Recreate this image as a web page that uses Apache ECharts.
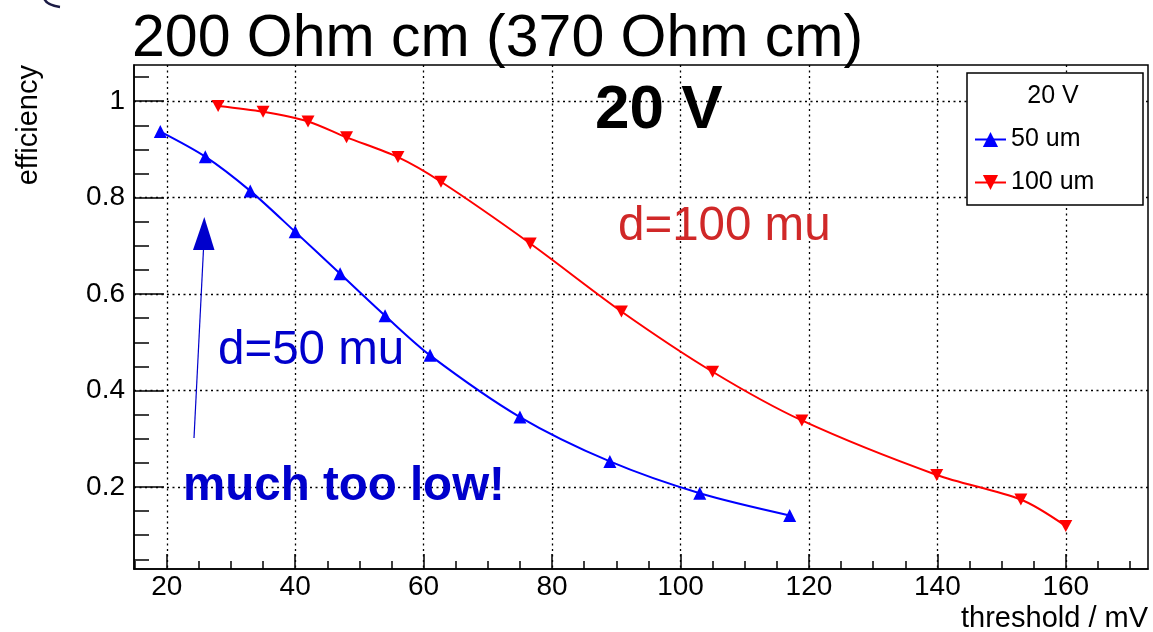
<!DOCTYPE html>
<html><head><meta charset="utf-8">
<script src="https://cdn.jsdelivr.net/npm/echarts@6/dist/echarts.min.js"></script>
<style>html,body{margin:0;padding:0;background:#fff}#c{width:1153px;height:632px}</style>
</head><body><div id="c"></div>
<script>
// ---- data ----
const xTicksMajor = [20, 40, 60, 80, 100, 120, 140, 160];
const xTicksMinor = [15, 25, 30, 35, 45, 50, 55, 65, 70, 75, 85, 90, 95, 105, 110, 115, 125, 130, 135, 145, 150, 155, 165, 170];
const yTicksMajor = [0.2, 0.4, 0.6, 0.8, 1];
const yTicksMinor = [0.05, 0.1, 0.15, 0.25, 0.3, 0.35, 0.45, 0.5, 0.55, 0.65, 0.7, 0.75, 0.85, 0.9, 0.95, 1.05];
const seriesNames = ['50 um', '100 um'];
const thr50 = [19, 26, 33, 40, 47, 54, 61, 75, 89, 103, 117];
const eff50 = [0.937, 0.885, 0.814, 0.729, 0.642, 0.555, 0.473, 0.345, 0.253, 0.187, 0.141];
const thr100 = [28, 35, 42, 48, 56, 62.7, 76.6, 90.8, 105, 118.9, 139.9, 153, 160];
const eff100 = [0.990, 0.978, 0.958, 0.925, 0.884, 0.833, 0.705, 0.564, 0.439, 0.338, 0.225, 0.174, 0.119];
const xRange = [14.9, 172.8];
const yRange = [0.03, 1.075];

const FF = '"Liberation Sans", Arial, Helvetica, sans-serif';
const chart = echarts.init(document.getElementById('c'), null, {renderer: 'canvas'});

function pairs(xs, ys) { return xs.map((x, i) => [x, ys[i]]); }

const blk = {color: '#000', width: 1.5};
const option = {
  animation: false,
  backgroundColor: '#fff',
  grid: {left: 134, top: 65, width: 1014, height: 504, show: true, borderColor: '#000', borderWidth: 1.5, backgroundColor: 'transparent'},
  xAxis: [
    {type: 'value', min: xRange[0], max: xRange[1], splitNumber: 8, minInterval: 20, maxInterval: 20, position: 'bottom',
      axisLine: {show: true, onZero: false, lineStyle: blk},
      axisTick: {show: true, inside: true, length: 15, customValues: xTicksMajor, lineStyle: blk},
      axisLabel: {show: true, customValues: xTicksMajor, margin: 4, fontSize: 28, color: '#000', fontFamily: FF},
      splitLine: {show: true, lineStyle: {color: '#000', type: [2, 3.5], width: 1.3}}},
    {type: 'value', min: xRange[0], max: xRange[1], position: 'bottom',
      axisLine: {show: false, onZero: false},
      axisTick: {show: true, inside: true, length: 8, customValues: xTicksMinor, lineStyle: blk},
      axisLabel: {show: false}, splitLine: {show: false}}
  ],
  yAxis: [
    {type: 'value', min: yRange[0], max: yRange[1], splitNumber: 5, minInterval: 0.2, maxInterval: 0.2, position: 'left',
      axisLine: {show: true, onZero: false, lineStyle: blk},
      axisTick: {show: true, inside: true, length: 30, customValues: yTicksMajor, lineStyle: blk},
      axisLabel: {show: true, customValues: yTicksMajor, margin: 9, fontSize: 28, color: '#000', fontFamily: FF},
      splitLine: {show: true, lineStyle: {color: '#000', type: [2, 3.5], width: 1.3}}},
    {type: 'value', min: yRange[0], max: yRange[1], position: 'left',
      axisLine: {show: false, onZero: false},
      axisTick: {show: true, inside: true, length: 15, customValues: yTicksMinor, lineStyle: blk},
      axisLabel: {show: false}, splitLine: {show: false}}
  ],
  legend: {
    data: seriesNames, orient: 'vertical', left: 974, top: 126, padding: 0,
    itemWidth: 31, itemHeight: 19, itemGap: 16, selectedMode: false, z: 20,
    textStyle: {fontSize: 25, lineHeight: 27, color: '#000', fontFamily: FF}
  },
  series: [
    {type: 'line', name: seriesNames[0], xAxisIndex: 0, yAxisIndex: 0, data: pairs(thr50, eff50),
      smooth: 0.3, symbol: 'triangle', symbolSize: 13, showSymbol: true,
      lineStyle: {color: '#0000ff', width: 2}, itemStyle: {color: '#0000ff'}, z: 3},
    {type: 'line', name: seriesNames[1], xAxisIndex: 0, yAxisIndex: 0, data: pairs(thr100, eff100),
      smooth: 0.3, symbol: 'path://M0,0L10,0L5,9Z', symbolSize: [13, 12], showSymbol: true,
      lineStyle: {color: '#ff0000', width: 2}, itemStyle: {color: '#ff0000'}, z: 3}
  ],
  graphic: {elements: [
    {type: 'rect', z: 10, shape: {x: 967, y: 73, width: 176, height: 132}, style: {fill: '#fff', stroke: '#000', lineWidth: 1.5}},
    {type: 'text', z: 11, x: 1053, y: 96, style: {text: '20 V', font: '25px ' + FF, fill: '#000', align: 'center', textAlign: 'center', verticalAlign: 'middle', textVerticalAlign: 'middle'}},
    {type: 'text', z: 11, x: 132, y: 40, style: {text: '200 Ohm cm (370 Ohm cm)', font: '59px ' + FF, fill: '#000', align: 'left', textAlign: 'left', verticalAlign: 'middle', textVerticalAlign: 'middle'}},
    {type: 'text', z: 11, x: 595, y: 111, style: {text: '20 V', font: 'bold 62px ' + FF, fill: '#000', align: 'left', textAlign: 'left', verticalAlign: 'middle', textVerticalAlign: 'middle'}},
    {type: 'text', z: 11, x: 618, y: 227, style: {text: 'd=100 mu', font: '47.5px ' + FF, fill: '#d02828', align: 'left', textAlign: 'left', verticalAlign: 'middle', textVerticalAlign: 'middle'}},
    {type: 'text', z: 11, x: 218, y: 351, style: {text: 'd=50 mu', font: '47.5px ' + FF, fill: '#0000cc', align: 'left', textAlign: 'left', verticalAlign: 'middle', textVerticalAlign: 'middle'}},
    {type: 'text', z: 11, x: 183, y: 487, style: {text: 'much too low!', font: 'bold 47.5px ' + FF, fill: '#0000cc', align: 'left', textAlign: 'left', verticalAlign: 'middle', textVerticalAlign: 'middle'}},
    {type: 'line', z: 11, shape: {x1: 194, y1: 438, x2: 203.5, y2: 249}, style: {stroke: '#0000cc', lineWidth: 1.2}},
    {type: 'polygon', z: 11, shape: {points: [[204.3, 217], [193, 250], [214.5, 250]]}, style: {fill: '#0000cc'}},
    {type: 'text', z: 11, x: 1148, y: 619, style: {text: 'threshold / mV', font: '29px ' + FF, fill: '#000', align: 'right', textAlign: 'right', verticalAlign: 'middle', textVerticalAlign: 'middle'}},
    {type: 'text', z: 11, x: 29, y: 65, rotation: Math.PI / 2, style: {text: 'efficiency', font: '29px ' + FF, fill: '#000', align: 'right', textAlign: 'right', verticalAlign: 'middle', textVerticalAlign: 'middle'}},
    {type: 'bezierCurve', z: 11, shape: {x1: 44, y1: -2, cpx1: 46, cpy1: 5, x2: 60, y2: 7}, style: {stroke: '#1a1a44', lineWidth: 2.5, fill: null}}
  ]}
};
chart.setOption(option);
</script>
</body></html>
